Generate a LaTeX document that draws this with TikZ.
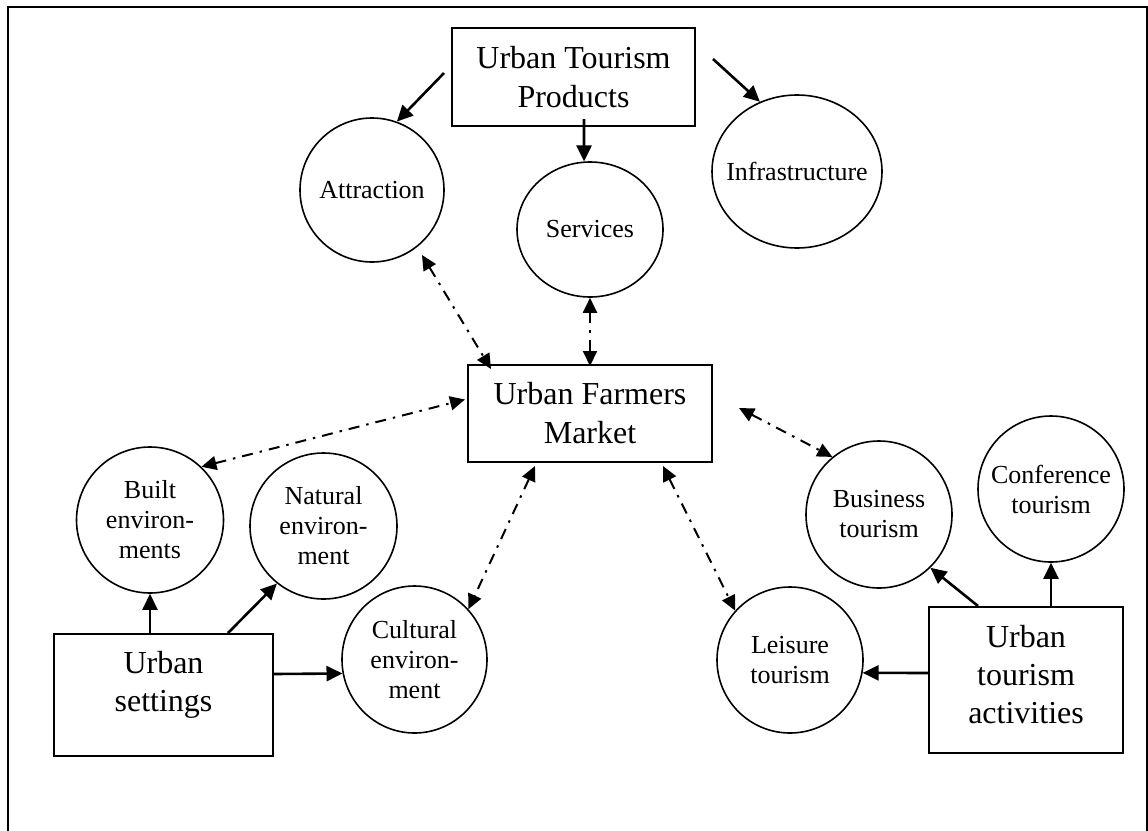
\documentclass[tikz,border=0pt]{standalone}
\usepackage{fontspec}
\setmainfont{Liberation Serif}
\usetikzlibrary{shapes.geometric,arrows.meta,calc}
\begin{document}
\begin{tikzpicture}[x=1pt,y=-1pt,
  box/.style={draw,line width=2pt,rectangle,inner sep=0pt,align=center,font=\fontsize{32}{39}\selectfont},
  boxtext/.style={inner sep=0pt,align=center,font=\fontsize{32}{38}\selectfont},
  bub/.style={draw,line width=1.6pt,ellipse,inner sep=0pt},
  btext/.style={align=center,inner sep=0pt,font=\fontsize{26}{30}\selectfont},
  arr/.style={line width=2.6pt,-{Triangle[length=16pt,width=15pt]}},
  link/.style={line width=2pt,dash pattern=on 11pt off 7pt on 2.5pt off 7pt,
    {Triangle[length=15pt,width=14pt]}-{Triangle[length=15pt,width=14pt]}},
  frame/.style={line width=2.5pt}]
\useasboundingbox (0,0) rectangle (1148,830);
\draw[frame] (8,834) -- (8,7) -- (1147,7) -- (1147,834);

% boxes
\node[box,minimum width=243pt,minimum height=98pt] (utp) at (573.5,77) {Urban Tourism\\Products};
\node[box,minimum width=244pt,minimum height=97pt] (ufm) at (590,413.5) {Urban Farmers\\Market};
\node[box,minimum width=219pt,minimum height=122pt] (us) at (163.5,695) {};
\node[boxtext] (us-t) at (163.5,685) {Urban\\settings};
\node[box,minimum width=194pt,minimum height=146pt] (uta) at (1026,680) {};
\node[boxtext] (uta-t) at (1026,675) {Urban\\tourism\\activities};

% bubbles
\node[bub,minimum width=144pt,minimum height=144pt] (attr) at (372,190) {};
\node[btext] (attr-t) at (attr) {Attraction};
\node[bub,minimum width=146pt,minimum height=135pt] (serv) at (590,229.5) {};
\node[btext] (serv-t) at (serv) {Services};
\node[bub,minimum width=170pt,minimum height=153pt] (infra) at (797,171.5) {};
\node[btext] (infra-t) at (infra) {Infrastructure};
\node[bub,minimum width=147pt,minimum height=146pt] (built) at (150,520) {};
\node[btext] (built-t) at (built) {Built\\environ-\\ments};
\node[bub,minimum width=147pt,minimum height=146pt] (nat) at (323.5,526) {};
\node[btext] (nat-t) at (nat) {Natural\\environ-\\ment};
\node[bub,minimum width=145pt,minimum height=147pt] (cult) at (414.5,659.5) {};
\node[btext] (cult-t) at (cult) {Cultural\\environ-\\ment};
\node[bub,minimum width=146pt,minimum height=147pt] (bus) at (879,514.5) {};
\node[btext] (bus-t) at (bus) {Business\\tourism};
\node[bub,minimum width=146pt,minimum height=146pt] (conf) at (1051,489) {};
\node[btext] (conf-t) at (conf) {Conference\\tourism};
\node[bub,minimum width=146pt,minimum height=146pt] (leis) at (790,660) {};
\node[btext] (leis-t) at (leis) {Leisure\\tourism};

% solid arrows
\draw[arr] ($(utp.west)+(-7,-4)$) -- (attr.70);
\draw[arr] ($(utp.south)+(10.5,-8)$) -- (serv.95);
\draw[arr] ($(utp.east)+(17,-18)$) -- (infra.118);
\draw[arr] ($(us.north)+(-13.5,0)$) -- (built.south);
\draw[arr] ($(us.north)+(64.5,0)$) -- (nat.231);
\draw[arr] ($(us.east)+(0,-21)$) -- (cult.191);
\draw[arr] ($(uta.west)+(0,-7)$) -- (leis.-10);
\draw[arr] ($(uta.north)+(-48,0)$) -- (bus.-46);
\draw[arr] ($(uta.north)+(25,0)$) -- (conf.south);

% dash-dot links
\draw[link] ($(attr.center)+(50,65)$) -- ($(ufm.north west)+(24,5)$);
\draw[link] (serv.south) -- ($(ufm.north)+(0,2)$);
\draw[link] (built.46) -- ($(ufm.west)+(-2,-14)$);
\draw[link] ($(ufm.east)+(26,-5.5)$) -- (bus.129);
\draw[link] ($(ufm.south)+(-55,3)$) -- (cult.43);
\draw[link] ($(ufm.south)+(73,3)$) -- (leis.138);
\end{tikzpicture}
\end{document}
